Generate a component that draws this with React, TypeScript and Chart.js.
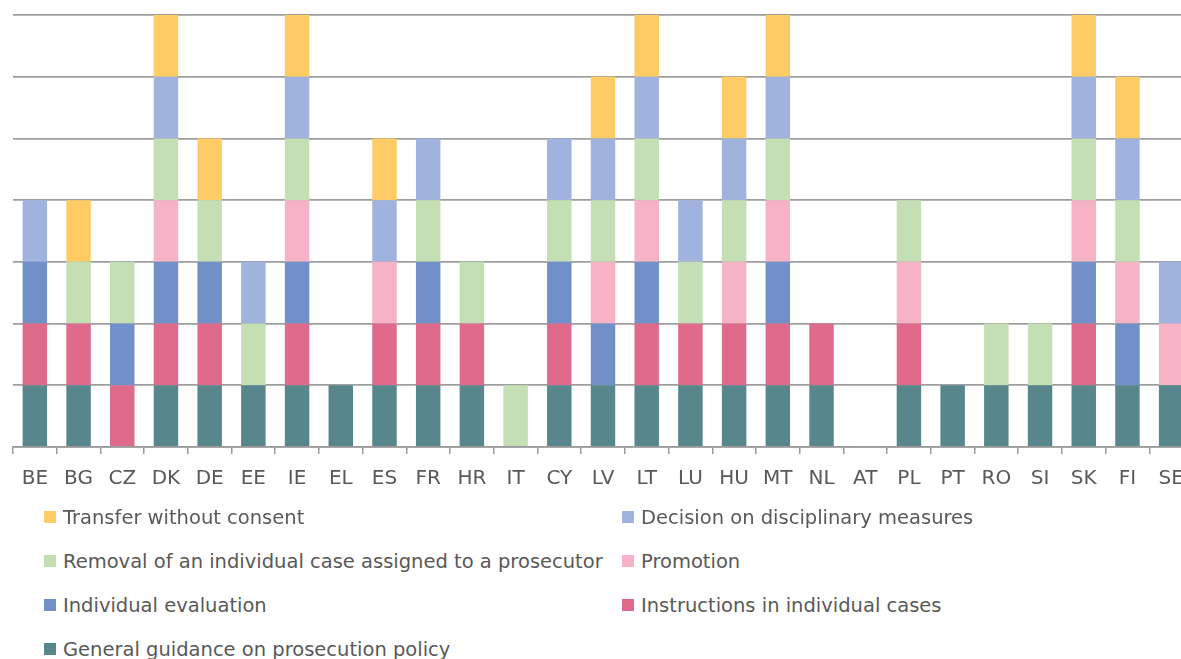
import React, { useEffect, useRef } from 'react';
import { Chart, registerables } from 'chart.js';

Chart.register(...registerables);

const countries = ['BE', 'BG', 'CZ', 'DK', 'DE', 'EE', 'IE', 'EL', 'ES', 'FR', 'HR', 'IT', 'CY', 'LV', 'LT', 'LU', 'HU', 'MT', 'NL', 'AT', 'PL', 'PT', 'RO', 'SI', 'SK', 'FI', 'SE'];

const generalGuidance = [1, 1, 0, 1, 1, 1, 1, 1, 1, 1, 1, 0, 1, 1, 1, 1, 1, 1, 1, 0, 1, 1, 1, 1, 1, 1, 1];
const instructions = [1, 1, 1, 1, 1, 0, 1, 0, 1, 1, 1, 0, 1, 0, 1, 1, 1, 1, 1, 0, 1, 0, 0, 0, 1, 0, 0];
const individualEvaluation = [1, 0, 1, 1, 1, 0, 1, 0, 0, 1, 0, 0, 1, 1, 1, 0, 0, 1, 0, 0, 0, 0, 0, 0, 1, 1, 0];
const promotion = [0, 0, 0, 1, 0, 0, 1, 0, 1, 0, 0, 0, 0, 1, 1, 0, 1, 1, 0, 0, 1, 0, 0, 0, 1, 1, 1];
const removal = [0, 1, 1, 1, 1, 1, 1, 0, 0, 1, 1, 1, 1, 1, 1, 1, 1, 1, 0, 0, 1, 0, 1, 1, 1, 1, 0];
const disciplinary = [1, 0, 0, 1, 0, 1, 1, 0, 1, 1, 0, 0, 1, 1, 1, 1, 1, 1, 0, 0, 0, 0, 0, 0, 1, 1, 1];
const transfer = [0, 1, 0, 1, 1, 0, 1, 0, 1, 0, 0, 0, 0, 1, 1, 0, 1, 1, 0, 0, 0, 0, 0, 0, 1, 1, 0];

const seriesLabels = [
  'General guidance on prosecution policy',
  'Instructions in individual cases',
  'Individual evaluation',
  'Promotion',
  'Removal of an individual case assigned to a prosecutor',
  'Decision on disciplinary measures',
  'Transfer without consent',
];
const seriesData = [generalGuidance, instructions, individualEvaluation, promotion, removal, disciplinary, transfer];
const seriesColors = ['#57878c', '#e06a8b', '#7190ca', '#f5b3c5', '#c3dfb3', '#a0b3de', '#ffcb64'];

// legend order (2 columns, row-major)
const legendOrder = [6, 5, 4, 3, 2, 1, 0];

const FONT = '"DejaVu Sans", sans-serif';
const TEXT = '#595959';

export default function App() {
  const ref = useRef<HTMLCanvasElement>(null);
  useEffect(() => {
    document.body.style.margin = '0';
    document.body.style.overflow = 'hidden';
    const chart = new Chart(ref.current!, {
      type: 'bar',
      data: {
        labels: countries,
        datasets: seriesData.map((d, i) => ({
          label: seriesLabels[i],
          data: d,
          backgroundColor: seriesColors[i],
          borderWidth: 0,
          barPercentage: 0.56,
          categoryPercentage: 1,
        })),
      },
      options: {
        animation: false,
        responsive: false,
        maintainAspectRatio: false,
        layout: { padding: { left: 13, right: 7, top: 15, bottom: 13 } },
        plugins: { legend: { display: false }, tooltip: { enabled: false } },
        scales: {
          x: {
            stacked: true,
            grid: { display: true, drawOnChartArea: false, tickLength: 7, color: '#999999', lineWidth: 1.5, offset: true },
            border: { color: '#999999', width: 1.5 },
            ticks: { color: TEXT, font: { family: FONT, size: 20 }, padding: 13, maxRotation: 0, autoSkip: false },
          },
          y: {
            stacked: true,
            min: 0,
            max: 7,
            ticks: { display: false, stepSize: 1 },
            grid: { color: '#9e9e9e', lineWidth: 1.8, drawTicks: false },
            border: { display: false },
          },
        },
      },
    });
    return () => chart.destroy();
  }, []);

  return (
    <div style={{ position: 'absolute', left: 0, top: 0, width: 1181, height: 659, overflow: 'hidden', background: '#fff' }}>
      <canvas ref={ref} width={1200} height={517} style={{ position: 'absolute', left: 0, top: 0 }} />
      {legendOrder.map((si, k) => {
        const col = k % 2;
        const row = Math.floor(k / 2);
        const left = col === 0 ? 44 : 622;
        const cy = 517 + row * 44;
        return (
          <div key={si} style={{ position: 'absolute', left, top: cy - 14, height: 28, display: 'flex', alignItems: 'center', whiteSpace: 'nowrap' }}>
            <span style={{ display: 'inline-block', width: 12, height: 12, background: seriesColors[si], marginRight: 7 }} />
            <span style={{ fontFamily: FONT, fontSize: 19.5, color: TEXT }}>{seriesLabels[si]}</span>
          </div>
        );
      })}
    </div>
  );
}
